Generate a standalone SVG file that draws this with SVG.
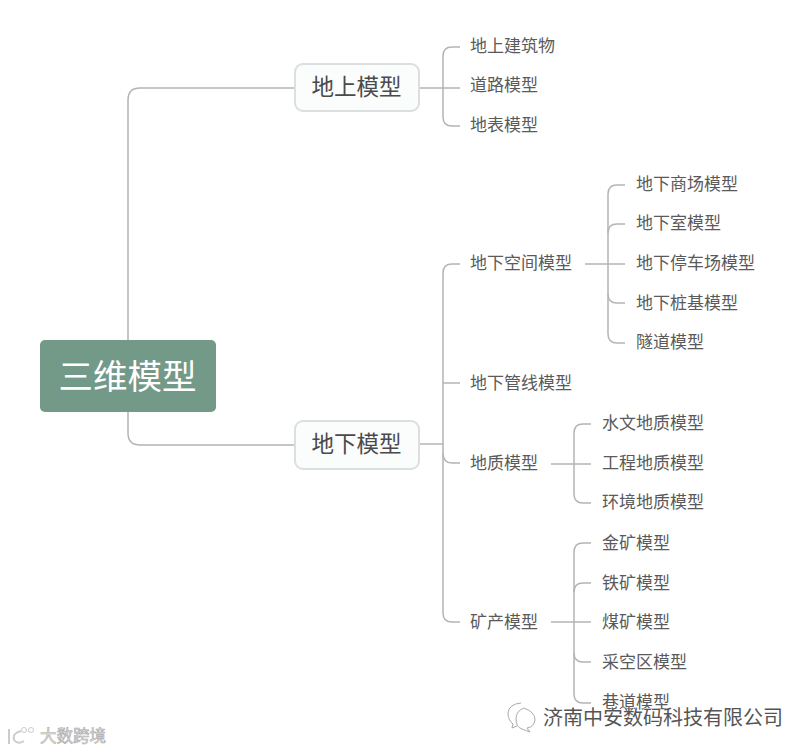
<svg xmlns="http://www.w3.org/2000/svg" width="808" height="752" viewBox="0 0 808 752">
<style>
text{font-family:"Noto Sans CJK SC","Liberation Sans",sans-serif;dominant-baseline:central}
.c{fill:none;stroke:#b4b4b4;stroke-width:1.5}
.b{fill:#fbfcfc;stroke:#dcdfdf;stroke-width:2}
.m{font-size:22.5px;fill:#4a4a4a;text-anchor:middle}
.l{font-size:17px;fill:#5a5a5a}
.wm{font-size:20px;fill:#555;stroke:#fff;stroke-width:.8;paint-order:stroke}
.wm2{font-size:16.5px;fill:#e4e4e4;stroke:#aaa;stroke-width:.6}
</style>
<rect width="808" height="752" fill="#fff"/>
<g id="connectors" class="c">
<path d="M128 340V100Q128 88 140 88H295"/>
<path d="M128 412V433Q128 445 140 445H295"/>
<path d="M419 88H460"/>
<path d="M460 47H452Q443 47 443 56V117Q443 126 452 126H460"/>
<path d="M419 444H443"/>
<path d="M460 264H452Q443 264 443 273V613Q443 622 452 622H460"/>
<path d="M443 383H460"/>
<path d="M443 453Q443 463 452 463H460"/>
<path d="M585 264H625"/>
<path d="M625 185H617Q608 185 608 194V334Q608 343 617 343H625"/>
<path d="M608 233Q608 224 617 224H625"/>
<path d="M608 294Q608 303 617 303H625"/>
<path d="M551 464H591"/>
<path d="M591 424H583Q574 424 574 433V494Q574 503 583 503H591"/>
<path d="M551 622H591"/>
<path d="M591 543H583Q574 543 574 552V694Q574 703 583 703H591"/>
<path d="M574 592Q574 583 583 583H591"/>
<path d="M574 653Q574 662 583 662H591"/>
</g>
<g id="root"><rect x="40" y="340" width="176" height="72" rx="5" fill="#739a89"/><text x="127.500" y="374" font-size="34.500" fill="#fff" text-anchor="middle">三维模型</text></g>
<g id="n-above"><rect class="b" x="295" y="64" width="124" height="47" rx="8"/><text class="m" x="356.500" y="85">地上模型</text></g>
<g id="n-below"><rect class="b" x="295" y="421" width="124" height="48" rx="8"/><text class="m" x="356.500" y="442">地下模型</text></g>
<g id="n1"><text class="l" x="470" y="44.500">地上建筑物</text></g>
<g id="n2"><text class="l" x="470" y="83.500">道路模型</text></g>
<g id="n3"><text class="l" x="470" y="123.500">地表模型</text></g>
<g id="n4"><text class="l" x="470" y="261.500">地下空间模型</text></g>
<g id="n5"><text class="l" x="470" y="381.500">地下管线模型</text></g>
<g id="n6"><text class="l" x="470" y="461.500">地质模型</text></g>
<g id="n7"><text class="l" x="470" y="620.500">矿产模型</text></g>
<g id="n8"><text class="l" x="636" y="182.500">地下商场模型</text></g>
<g id="n9"><text class="l" x="636" y="221.500">地下室模型</text></g>
<g id="n10"><text class="l" x="636" y="261.500">地下停车场模型</text></g>
<g id="n11"><text class="l" x="636" y="301.500">地下桩基模型</text></g>
<g id="n12"><text class="l" x="636" y="340.500">隧道模型</text></g>
<g id="n13"><text class="l" x="602" y="421.500">水文地质模型</text></g>
<g id="n14"><text class="l" x="602" y="461.500">工程地质模型</text></g>
<g id="n15"><text class="l" x="602" y="500.500">环境地质模型</text></g>
<g id="n16"><text class="l" x="602" y="541.500">金矿模型</text></g>
<g id="n17"><text class="l" x="602" y="581.500">铁矿模型</text></g>
<g id="n18"><text class="l" x="602" y="620.500">煤矿模型</text></g>
<g id="n19"><text class="l" x="602" y="660.500">采空区模型</text></g>
<g id="n20"><text class="l" x="602" y="700.500">巷道模型</text></g>
<text class="wm" x="543" y="716">济南中安数码科技有限公司</text>
<g fill="#fff" stroke="#aaa" stroke-width="1"><path d="M521 703Q509 704 508 713Q508 720 513 724L512 728L517 726"/><path d="M524 708Q535 712 535 720Q534 727 527 728L530 732L522 729Q516 727 516 719Q516 711 524 708Z"/></g>
<text class="wm2" x="40" y="735">大数跨境</text>
<g fill="none" stroke="#ccc" stroke-width="2"><path d="M9 729V744"/><path d="M21 731Q12 733 14 740Q18 745 24 741"/><circle cx="24" cy="730" r="2.500" stroke-width="1"/><circle cx="31" cy="730" r="2.500" stroke-width="1"/></g>
</svg>
